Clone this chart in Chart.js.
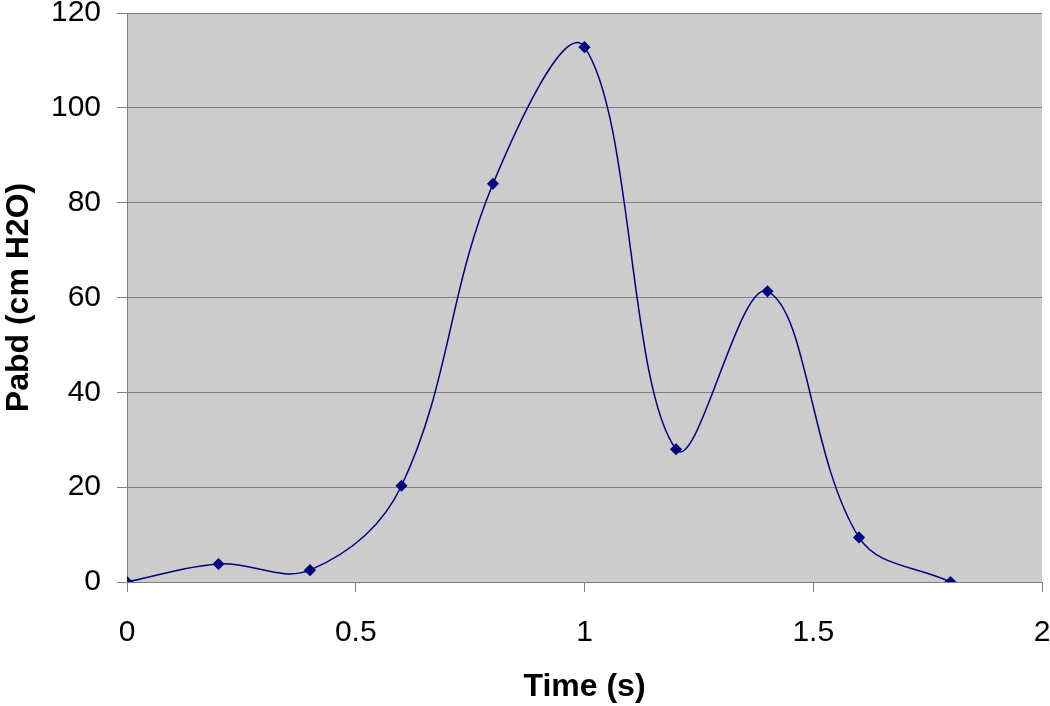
<!DOCTYPE html>
<html>
<head>
<meta charset="utf-8">
<script src="https://cdn.jsdelivr.net/npm/chart.js@4"></script>
<style>
 body{margin:0;background:#fff;}
 #wrap{width:1050px;height:706px;}
</style>
</head>
<body>
<div id="wrap"><canvas id="chart"></canvas></div>
<script>
/* ---------- DATA ---------- */
let times=[0,0.2,0.4,0.6,0.8,1.0,1.2,1.4,1.6,1.8];
let pabd=[0,3.8,2.5,20.3,84,112.8,28,61.3,9.4,0];
let xTicks=[0,0.5,1,1.5,2];
let yTicks=[0,20,40,60,80,100,120];

/* ---------- PLOT BACKGROUND ---------- */
const plotBg={
 id:"plotBg",
 beforeDraw(c){
  let a=c.chartArea, ctx=c.ctx;
  ctx.save();
  ctx.fillStyle="#cccccc";
  ctx.fillRect(a.left,a.top,a.right-a.left,a.bottom-a.top);
  ctx.restore();
 }
};

let fam="'Liberation Sans', Arial, sans-serif";
let tickFont={family:fam,size:30};
let titleFont={family:fam,size:32,weight:"bold"};
let gridCol="#7f7f7f";

new Chart(chart,{
 type:"scatter",
 data:{datasets:[{
  data:times.map((t,i)=>({x:t,y:pabd[i]})),
  showLine:true,
  tension:0.37,
  borderColor:"#000080",
  backgroundColor:"#000080",
  borderWidth:1.5,
  pointStyle:"rectRot",
  pointRadius:5,
  pointHoverRadius:5
 }]},
 options:{
  responsive:true,
  maintainAspectRatio:false,
  animation:false,
  layout:{padding:{top:13,right:8,left:0,bottom:0}},
  plugins:{legend:{display:false},tooltip:{enabled:false}},
  scales:{
   x:{
    type:"linear",min:0,max:2,
    afterBuildTicks:s=>{s.ticks=xTicks.map(v=>({value:v}));},
    afterFit:s=>{s.height=124;s.paddingLeft=0;s.paddingRight=0;},
    grid:{drawOnChartArea:false,drawTicks:true,tickLength:10,color:gridCol},
    border:{color:gridCol},
    ticks:{font:tickFont,color:"#000",padding:23,maxRotation:0,callback:v=>String(v)},
    title:{display:true,text:"Time (s)",font:titleFont,color:"#000",padding:{top:0,bottom:0}}
   },
   y:{
    type:"linear",min:0,max:120,
    afterBuildTicks:s=>{s.ticks=yTicks.map(v=>({value:v}));},
    afterFit:s=>{s.width=127;s.paddingTop=0;s.paddingBottom=0;},
    grid:{color:gridCol,tickLength:10},
    border:{color:gridCol},
    ticks:{font:tickFont,color:"#000",padding:16,callback:v=>String(v)},
    title:{display:true,text:"Pabd (cm H2O)",font:titleFont,color:"#000",padding:{top:0,bottom:0}}
   }
  }
 },
 plugins:[plotBg]
});
</script>
</body>
</html>
